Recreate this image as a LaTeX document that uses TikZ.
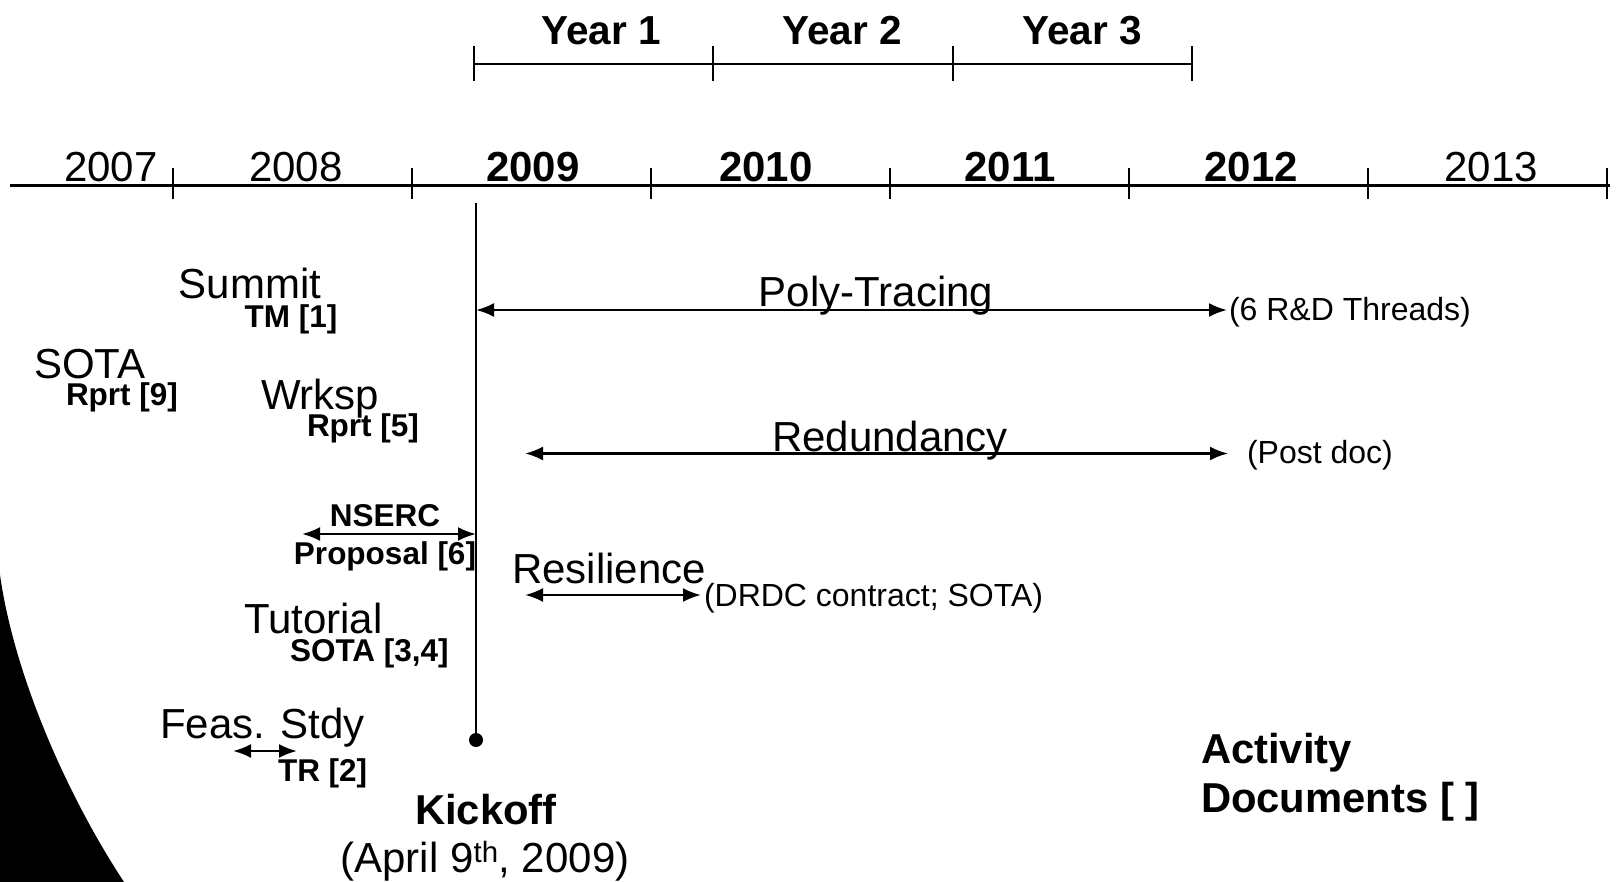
\documentclass[tikz,border=0pt]{standalone}
\usepackage{fontspec}
\setmainfont{Liberation Sans}
\usetikzlibrary{arrows.meta}
\begin{document}
\begin{tikzpicture}[x=1pt,y=-1pt,
  every node/.style={inner sep=0pt,outer sep=0pt},
  big/.style={font=\fontsize{42}{48}\selectfont},
  bigb/.style={font=\fontsize{41.8}{48}\selectfont\bfseries},
  yrb/.style={font=\fontsize{42}{48}\selectfont\bfseries},
  sm/.style={font=\fontsize{32}{38}\selectfont},
  smb/.style={font=\fontsize{31.5}{36}\selectfont\bfseries},
  yearlab/.style={font=\fontsize{40.5}{46}\selectfont\bfseries},
  dbl/.style={{Latex[length=18pt,width=14pt]}-{Latex[length=18pt,width=14pt]},line width=2.4pt},
  tick/.style={line width=2pt}]
\useasboundingbox (0,0) rectangle (1616,882);
% scan shadow
\fill[black] (0,575) .. controls (15,680) and (70,800) .. (124,882) -- (0,882) -- cycle;
% main axis
\coordinate (ax0) at (10,185.5);
\coordinate (ax1) at (1610,185.5);
\draw[line width=3.6pt] (ax0) -- (ax1);
\foreach \x in {173,412,651,890,1129,1368,1607}{\draw[tick] (\x,168) -- (\x,199);}
\node[big,anchor=base] (y2007) at (111,182) {2007};
\node[big,anchor=base] (y2008) at (296,182) {2008};
\node[yrb,anchor=base] (y2009) at (533,182) {2009};
\node[yrb,anchor=base] (y2010) at (766,182) {2010};
\node[yrb,anchor=base] (y2011) at (1010,182) {2011};
\node[yrb,anchor=base] (y2012) at (1251,182) {2012};
\node[big,anchor=base] (y2013) at (1491,182) {2013};
% year bracket
\coordinate (yb0) at (474,64);
\coordinate (yb1) at (1192,64);
\draw[tick] (yb0) -- (yb1);
\foreach \x in {474,713,953,1192}{\draw[tick] (\x,46) -- (\x,81);}
\node[yearlab,anchor=base] (yr1) at (601,45) {Year 1};
\node[yearlab,anchor=base] (yr2) at (842,45) {Year 2};
\node[yearlab,anchor=base] (yr3) at (1082,45) {Year 3};
% kickoff
\coordinate (kicktop) at (476,203);
\node[circle,fill=black,minimum size=14pt] (kickdot) at (476,740) {};
\draw[line width=2.4pt] (kicktop) -- (kickdot.center);
\node[bigb,anchor=base] (kick) at (486,824) {Kickoff};
\node[big,anchor=base] (kickdate) at (485,872) {(April 9\textsuperscript{th}, 2009)};
% poly-tracing
\coordinate (pt0) at (476,310);
\coordinate (pt1) at (1227,310);
\draw[dbl] (pt0) -- (pt1);
\node[big,anchor=base] (ptlab) at (876,307) {Poly-Tracing};
\node[sm,anchor=base west] (ptnote) at (1229,320) {(6 R\&D Threads)};
% redundancy
\coordinate (rd0) at (525,453.5);
\coordinate (rd1) at (1228,453.5);
\draw[dbl] (rd0) -- (rd1);
\node[big,anchor=base] (rdlab) at (890,451) {Redundancy};
\node[sm,anchor=base west] (rdnote) at (1247,463) {(Post doc)};
% resilience
\coordinate (rs0) at (525,595);
\coordinate (rs1) at (701,595);
\draw[dbl] (rs0) -- (rs1);
\node[big,anchor=base west] (rslab) at (512,583) {Resilience};
\node[sm,anchor=base west] (rsnote) at (704,606) {(DRDC contract; SOTA)};
% NSERC
\coordinate (ns0) at (302,534);
\coordinate (ns1) at (476,534);
\draw[dbl] (ns0) -- (ns1);
\node[smb,anchor=base] (nslab) at (385,526) {NSERC};
\node[smb,anchor=base] (nsdoc) at (385,564) {Proposal [6]};
% left activities
\node[big,anchor=base] (summit) at (250,299) {Summit};
\node[smb,anchor=base] (summitdoc) at (291,328) {TM [1]};
\node[big,anchor=base west] (sota) at (34,378) {SOTA};
\node[smb,anchor=base west] (sotadoc) at (66,405) {Rprt [9]};
\node[big,anchor=base west] (wrksp) at (261,409) {Wrksp};
\node[smb,anchor=base west] (wrkspdoc) at (307,436) {Rprt [5]};
\node[big,anchor=base west] (tut) at (244,633) {Tutorial};
\node[smb,anchor=base west] (tutdoc) at (290,661) {SOTA [3,4]};
\node[big,anchor=base west] (feas) at (160,738) {Feas. Stdy};
\coordinate (fs0) at (233,751);
\coordinate (fs1) at (297,751);
\draw[dbl] (fs0) -- (fs1);
\node[smb,anchor=base west] (feasdoc) at (278,781) {TR [2]};
% legend
\node[bigb,anchor=base west] (act) at (1201,763) {Activity};
\node[bigb,anchor=base west] (docs) at (1201,812) {Documents [ ]};
\end{tikzpicture}
\end{document}
